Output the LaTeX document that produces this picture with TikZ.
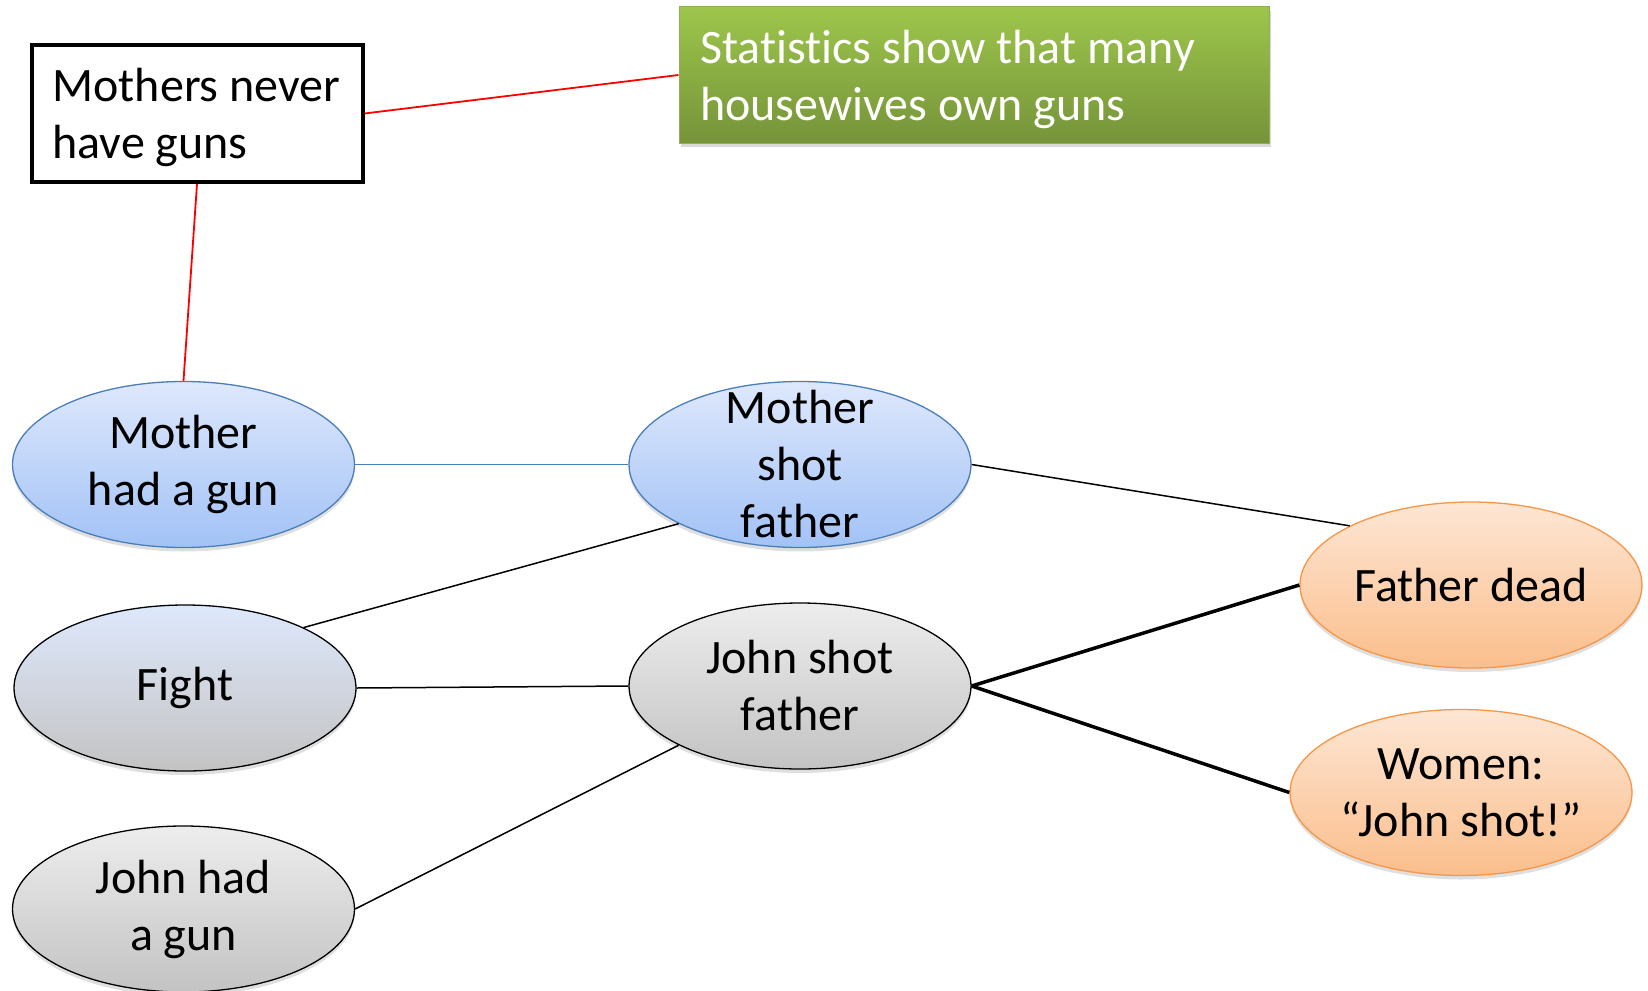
\documentclass[tikz,border=0pt]{standalone}
\usepackage{fontspec}
\setmainfont{Carlito}[Ligatures=CommonOff]
\usetikzlibrary{shapes.geometric,shadings,shadows}

\definecolor{blueedge}{HTML}{4A7EBB}
\definecolor{bluetop}{HTML}{DEE8FC}
\definecolor{bluebot}{HTML}{A2C2F6}
\definecolor{graytop}{HTML}{EDEDED}
\definecolor{graybot}{HTML}{C3C3C3}
\definecolor{orangeedge}{HTML}{F79646}
\definecolor{orangetop}{HTML}{FDE6D4}
\definecolor{orangebot}{HTML}{FBBE8C}
\definecolor{greentop}{HTML}{9DC64B}
\definecolor{greenbot}{HTML}{76933A}
\definecolor{greenedge}{HTML}{8DB04A}
\definecolor{linkred}{HTML}{FF0000}

\tikzset{
  txt/.style={font=\fontsize{48}{57}\selectfont},
  oval/.style={ellipse, txt, align=center, inner sep=0pt,
    minimum width=342pt, minimum height=166pt, line width=1.3pt,
    drop shadow={opacity=0.25, shadow xshift=0pt, shadow yshift=-4pt}},
  blueoval/.style={oval, draw=blueedge, top color=bluetop, bottom color=bluebot},
  grayoval/.style={oval, draw=black, top color=graytop, bottom color=graybot},
  mixoval/.style={oval, draw=black, top color=bluetop, bottom color=graybot},
  orangeoval/.style={oval, draw=orangeedge, top color=orangetop, bottom color=orangebot},
  claimbox/.style={rectangle, txt, draw=black, line width=4pt, fill=white,
    align=flush left, text width=289pt, inner xsep=21pt, inner ysep=0pt,
    minimum height=137pt},
  notebox/.style={rectangle, txt, text=white, draw=greenedge, line width=1pt,
    top color=greentop, bottom color=greenbot, align=flush left,
    text width=548pt, inner xsep=21pt, inner ysep=0pt, minimum height=136pt,
    drop shadow={opacity=0.3, shadow xshift=2pt, shadow yshift=-4pt}},
  redlink/.style={draw=linkred, line width=1.8pt},
  bluelink/.style={draw=blueedge, line width=1.8pt},
  link/.style={draw=black, line width=1.5pt},
  heavylink/.style={draw=black, line width=3.5pt},
}

\begin{document}
\begin{tikzpicture}[x=1pt, y=-1pt]
  \useasboundingbox (0,0) rectangle (1648,990);

  % statements (text sits a little below the box centre)
  \node[claimbox] (never) at (197,113.5) {};
  \node[txt, align=flush left, text width=289pt, inner sep=0pt] (nevertext)
    at (197,117) {Mothers never\\have guns};
  \node[notebox] (stats) at (974,75) {};
  \node[txt, text=white, align=flush left, text width=548pt, inner sep=0pt] (statstext)
    at (974,79) {Statistics show that many\\housewives own guns};

  % hypotheses and evidence
  \node[blueoval] (mgun) at (183.5,464.5) {Mother\\had a gun};
  \node[blueoval, inner ysep=-30pt] (mshot) at (800,464.5) {Mother\\shot\\father};
  \node[mixoval] (fight) at (185,688) {Fight};
  \node[grayoval] (jshot) at (800,686) {John shot\\father};
  \node[grayoval] (jgun) at (183.5,909) {John had\\a gun};
  \node[orangeoval] (dead) at (1471,585) {Father dead};
  \node[orangeoval] (women) at (1461,792.5) {Women:\\“John shot!”};

  % connectors
  \draw[redlink] (never.south) -- (mgun.north);
  \draw[redlink] (never.east) -- (stats.west);
  \draw[bluelink] (mgun.east) -- (mshot.west);
  \draw[link] (mshot.east) -- (dead.154);
  \draw[link] (fight.27) -- (mshot.206);
  \draw[link] (fight.east) -- (jshot.west);
  \draw[link] (jgun.east) -- (jshot.206);
  \draw[heavylink] (jshot.east) -- (dead.west);
  \draw[heavylink] (jshot.east) -- (women.west);
\end{tikzpicture}
\end{document}
